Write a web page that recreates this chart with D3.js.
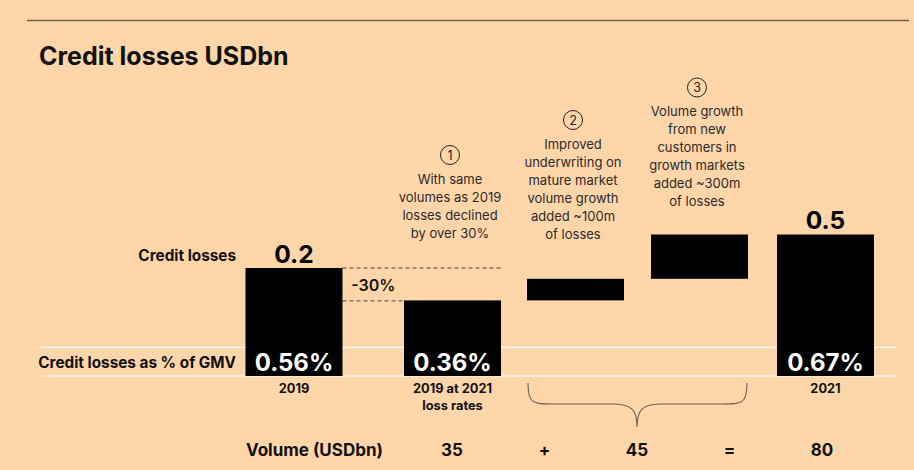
<!DOCTYPE html>
<html><head><meta charset="utf-8">
<script src="https://cdn.jsdelivr.net/npm/d3@7"></script>
<style>
html,body{margin:0;padding:0;background:#fed6aa;}
svg{display:block;font-family:Inter,"Noto Sans",sans-serif;}
</style></head>
<body><svg id="c" width="914" height="470"></svg>
<script>
// ---- data ----
const categories = ["2019", "2019 at 2021 loss rates", "Improved underwriting", "Growth markets", "2021"];
const barValues = [0.2, 0.14, 0.04, 0.082, 0.262];           // drawn bar heights (stylised scale)
const barTypes = ["total", "total", "delta", "delta", "total"];
const lossLabels = ["0.2", "", "", "", "0.5"];
const gmvLabels = ["0.56%", "0.36%", "", "", "0.67%"];
const categoryLabels = [["2019"], ["2019 at 2021", "loss rates"], [], [], ["2021"]];
const changeLabel = "-30%";
const notes = [
  {num: "1", cat: "2019 at 2021 loss rates", lines: ["With same", "volumes as 2019", "losses declined", "by over 30%"]},
  {num: "2", cat: "Improved underwriting", lines: ["Improved", "underwriting on", "mature market", "volume growth", "added ~100m", "of losses"]},
  {num: "3", cat: "Growth markets", lines: ["Volume growth", "from new", "customers in", "growth markets", "added ~300m", "of losses"]}
];
const volumeTitle = "Volume (USDbn)";
const volumeRow = ["35", "+", "45", "=", "80"];
const rowLabels = ["Credit losses", "Credit losses as % of GMV"];
const title = "Credit losses USDbn";

// ---- layout ----
const svg = d3.select("#c");
const barW = 97;
const x = d3.scaleOrdinal().domain(categories).range([294, 452.5, 575.5, 699.5, 825.5]);
const y = d3.scaleLinear().domain([0, 0.3]).range([376, 214]);

// waterfall starts
let run = 0;
const bars = categories.map((c, i) => {
  let start, end;
  if (barTypes[i] === "total") { start = 0; end = barValues[i]; run = end; }
  else { start = run; end = run + barValues[i]; run = end; }
  return {c, start, end, i};
});

// top rule
svg.append("line").attr("x1", 27).attr("x2", 909).attr("y1", 20.5).attr("y2", 20.5)
  .attr("stroke", "#6e6150").attr("stroke-width", 1.3);

// title
svg.append("text").attr("x", 39).attr("y", 65).text(title)
  .attr("font-size", 25).attr("font-weight", 700).attr("fill", "#111");

// white band lines
[y(0.053), y(0)].forEach((yy, k) => {
  svg.append("line").attr("x1", 40).attr("x2", 896).attr("y1", yy).attr("y2", yy)
    .attr("stroke", "#ffffff").attr("stroke-width", 1.2);
});

// row labels
svg.append("text").attr("x", 236).attr("y", 260.5).attr("text-anchor", "end")
  .attr("font-size", 15.3).attr("font-weight", 700).attr("fill", "#111").text(rowLabels[0]);
svg.append("text").attr("x", 236).attr("y", 367.5).attr("text-anchor", "end")
  .attr("font-size", 15.3).attr("font-weight", 700).attr("fill", "#111").text(rowLabels[1]);

// bars
svg.selectAll("rect.bar").data(bars).join("rect").attr("class", "bar")
  .attr("x", d => x(d.c) - barW / 2).attr("width", barW)
  .attr("y", d => y(d.end)).attr("height", d => y(d.start) - y(d.end))
  .attr("fill", "#000");

// dashed connectors
const c0 = categories[0], c1 = categories[1];
svg.append("line").attr("x1", x(c0) + barW / 2).attr("x2", x(c1) + barW / 2)
  .attr("y1", y(barValues[0])).attr("y2", y(barValues[0]))
  .attr("stroke", "#444").attr("stroke-width", 1).attr("stroke-dasharray", "4,3");
svg.append("line").attr("x1", x(c0) + barW / 2).attr("x2", x(c1) - barW / 2)
  .attr("y1", y(barValues[1]) + 0.5).attr("y2", y(barValues[1]) + 0.5)
  .attr("stroke", "#444").attr("stroke-width", 1).attr("stroke-dasharray", "4,3");
svg.append("text").attr("x", (x(c0) + barW / 2 + x(c1) - barW / 2) / 2).attr("y", 291)
  .attr("text-anchor", "middle").attr("font-size", 16).attr("font-weight", 600)
  .attr("fill", "#111").text(changeLabel);

// loss labels above bars
svg.selectAll("text.loss").data(bars.filter(d => lossLabels[d.i])).join("text").attr("class", "loss")
  .attr("x", d => x(d.c)).attr("y", d => y(d.end) - 5.5).attr("text-anchor", "middle")
  .attr("font-size", 24.5).attr("font-weight", 700).attr("fill", "#000").text(d => lossLabels[d.i]);

// gmv labels inside bars
svg.selectAll("text.gmv").data(bars.filter(d => gmvLabels[d.i])).join("text").attr("class", "gmv")
  .attr("x", d => x(d.c)).attr("y", 370.5).attr("text-anchor", "middle")
  .attr("font-size", 24).attr("font-weight", 700).attr("fill", "#fff").text(d => gmvLabels[d.i]);

// category labels
bars.forEach(d => {
  categoryLabels[d.i].forEach((t, k) => {
    svg.append("text").attr("x", x(d.c)).attr("y", 393 + k * 17).attr("text-anchor", "middle")
      .attr("font-size", 12.8).attr("font-weight", 700).attr("fill", "#111").text(t);
  });
});

// annotations
const noteTops = {"1": 155, "2": 120, "3": 87.5};
notes.forEach(n => {
  const cx = x(n.cat) - 2.5;
  const cy = noteTops[n.num];
  svg.append("circle").attr("cx", cx).attr("cy", cy).attr("r", 9.5)
    .attr("fill", "none").attr("stroke", "#222").attr("stroke-width", 1);
  svg.append("text").attr("x", cx).attr("y", cy + 4.5).attr("text-anchor", "middle")
    .attr("font-size", 12.5).attr("fill", "#222").text(n.num);
  n.lines.forEach((t, k) => {
    svg.append("text").attr("x", cx).attr("y", cy + 28.5 + k * 18).attr("text-anchor", "middle")
      .attr("font-size", 13).attr("fill", "#2a2a2a").text(t);
  });
});

// brace under the two delta bars
const bx1 = x(categories[2]) - barW / 2 + 1, bx2 = x(categories[3]) + barW / 2 - 1;
const bm = 637, bt = 383, bh = 404, bb = 427;
const brace = d3.path();
brace.moveTo(bx1, bt);
brace.bezierCurveTo(bx1, bh, bx1 + 5, bh, bx1 + 25, bh);
brace.lineTo(bm - 25, bh);
brace.bezierCurveTo(bm - 5, bh, bm, bh + 6, bm, bb);
brace.bezierCurveTo(bm, bh + 6, bm + 5, bh, bm + 25, bh);
brace.lineTo(bx2 - 25, bh);
brace.bezierCurveTo(bx2 - 5, bh, bx2, bh, bx2, bt);
svg.append("path").attr("d", brace.toString()).attr("fill", "none")
  .attr("stroke", "#6b6156").attr("stroke-width", 1.1);

// volume row
svg.append("text").attr("x", 246).attr("y", 455.5).attr("font-size", 17).attr("font-weight", 700)
  .attr("fill", "#111").text(volumeTitle);
const volX = d3.scalePoint().domain(d3.range(volumeRow.length)).range([452, 822]);
svg.selectAll("text.vol").data(volumeRow).join("text").attr("class", "vol")
  .attr("x", (d, i) => volX(i)).attr("y", 455.5).attr("text-anchor", "middle")
  .attr("font-size", 17).attr("font-weight", 700).attr("fill", "#111").text(d => d);
</script></body></html>
